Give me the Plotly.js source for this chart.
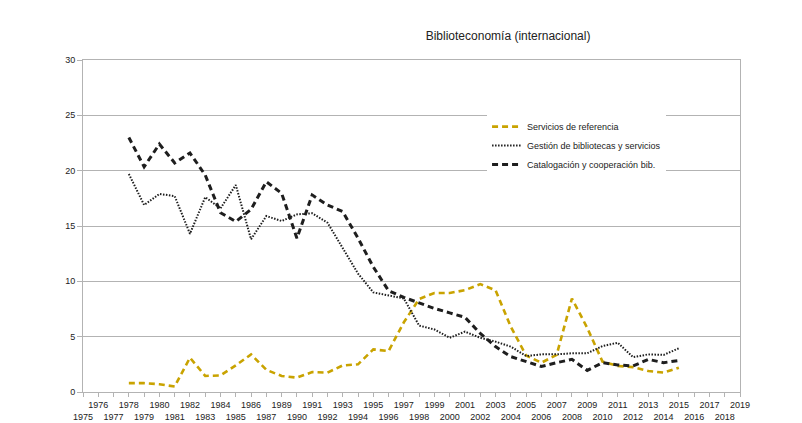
<!DOCTYPE html>
<html>
<head>
<meta charset="utf-8">
<script src="https://cdn.plot.ly/plotly-3.0.1.min.js"></script>
<style>html,body{margin:0;padding:0;background:#fff;}#chart{width:802px;height:423px;}</style>
</head>
<body>
<div id="chart"></div>
<script>
// Axis categories (note: 1988 is absent in the original)
var axisYears = ["1975","1976","1977","1978","1979","1980","1981","1982","1983","1984","1985","1986","1987",
  "1989","1990","1991","1992","1993","1994","1995","1996","1997","1998","1999","2000","2001","2002","2003",
  "2004","2005","2006","2007","2008","2009","2010","2011","2012","2013","2014","2015","2016","2017","2018","2019"];

// Years with data
var dataYears = ["1978","1979","1980","1981","1982","1983","1984","1985","1986","1987",
  "1989","1990","1991","1992","1993","1994","1995","1996","1997","1998","1999","2000","2001","2002","2003",
  "2004","2005","2006","2007","2008","2009","2010","2011","2012","2013","2014","2015"];

var serviciosReferencia = [0.8,0.8,0.7,0.5,3.1,1.45,1.5,2.4,3.4,2.0,
  1.45,1.3,1.8,1.75,2.4,2.5,3.85,3.7,6.3,8.4,8.95,8.95,9.2,9.75,9.2,
  5.9,3.3,2.65,3.35,8.45,5.8,2.75,2.35,2.25,1.9,1.75,2.2];

var gestionBibliotecas = [19.7,16.9,17.9,17.7,14.3,17.6,16.6,18.7,13.8,15.9,
  15.45,16.05,16.15,15.3,13.0,10.7,9.0,8.75,8.45,6.0,5.65,4.9,5.45,4.9,4.55,
  4.1,3.25,3.4,3.4,3.5,3.5,4.15,4.45,3.15,3.4,3.35,3.95];

var catalogacion = [23.0,20.35,22.4,20.7,21.6,19.6,16.2,15.4,16.5,19.0,
  17.95,13.9,17.8,16.9,16.3,13.9,11.3,9.15,8.55,8.05,7.55,7.15,6.75,5.3,4.1,
  3.2,2.75,2.3,2.65,2.95,1.95,2.65,2.45,2.35,2.95,2.65,2.85];

var seriesNames = ["Servicios de referencia","Gestión de bibliotecas y servicios","Catalogación y cooperación bib."];

var tickText = axisYears.map(function(y, i){ return (i % 2 === 0) ? "<br>" + y : y; });

var traces = [
  {x: dataYears, y: serviciosReferencia, name: seriesNames[0], type: "scatter", mode: "lines",
   line: {color: "#c9a300", width: 2.6, dash: "6px,4px"}},
  {x: dataYears, y: gestionBibliotecas, name: seriesNames[1], type: "scatter", mode: "lines",
   line: {color: "#1e1e1e", width: 2, dash: "1.5px,1.5px"}},
  {x: dataYears, y: catalogacion, name: seriesNames[2], type: "scatter", mode: "lines",
   line: {color: "#1e1e1e", width: 3, dash: "6px,4px"}}
];

var layout = {
  width: 802, height: 423,
  margin: {l: 83, r: 62, t: 60, b: 31},
  paper_bgcolor: "#ffffff", plot_bgcolor: "#ffffff",
  font: {family: "Liberation Sans, Arial, sans-serif", size: 9, color: "#222"},
  title: {text: "Biblioteconomía (internacional)", font: {size: 12, color: "#222", family: "Liberation Sans, Arial, sans-serif"},
          xref: "paper", x: 0.647, xanchor: "center", yref: "container", y: 0.915, yanchor: "middle"},
  showlegend: true,
  legend: {x: 0.615, y: 0.843, xanchor: "left", yanchor: "top", bgcolor: "#ffffff", borderwidth: 0,
           font: {size: 9, color: "#222"}},
  xaxis: {type: "category", categoryorder: "array", categoryarray: axisYears, range: [0, 43],
          tickvals: axisYears, ticktext: tickText, tickangle: 0,
          showgrid: false, zeroline: false, showline: true, mirror: true, linecolor: "#b3b3b3", linewidth: 1,
          ticks: "outside", ticklen: 4, tickcolor: "#b3b3b3", tickfont: {size: 9, color: "#222"}, automargin: false},
  yaxis: {range: [0, 30], dtick: 5, showgrid: true, gridcolor: "#b3b3b3", gridwidth: 1, zeroline: false,
          showline: true, mirror: true, linecolor: "#b3b3b3", linewidth: 1,
          ticks: "outside", ticklen: 5, tickcolor: "#b3b3b3", tickfont: {size: 9, color: "#222"}, automargin: false}
};

Plotly.newPlot("chart", traces, layout, {displayModeBar: false, staticPlot: true});
</script>
</body>
</html>
